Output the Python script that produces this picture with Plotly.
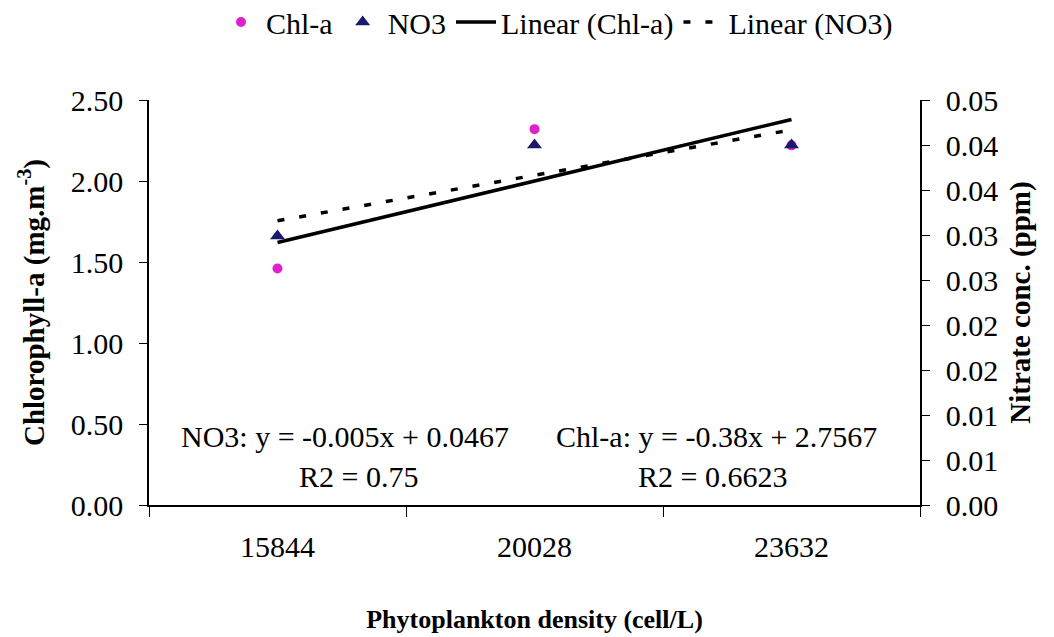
import numpy as np
import plotly.graph_objects as go

# ---------------- data ----------------
categories = ["15844", "20028", "23632"]
chla = [1.46, 2.32, 2.22]          # Chlorophyll-a (mg.m-3), left axis
no3 = [0.0299, 0.0400, 0.0400]     # Nitrate (ppm), right axis

y_tickvals = [0.0, 0.5, 1.0, 1.5, 2.0, 2.5]
y_ticktext = ["0.00", "0.50", "1.00", "1.50", "2.00", "2.50"]
y2_tickvals = [0.0, 0.005, 0.010, 0.015, 0.020, 0.025, 0.030, 0.035, 0.040, 0.045]
y2_ticktext = ["0.00", "0.01", "0.01", "0.02", "0.02", "0.03", "0.03", "0.04", "0.04", "0.05"]

eq_no3 = "NO3: y = -0.005x + 0.0467"
r2_no3 = "R2 = 0.75"
eq_chla = "Chl-a: y = -0.38x + 2.7567"
r2_chla = "R2 = 0.6623"

# linear trendlines (least squares over category index)
idx = np.arange(1, len(categories) + 1)
c_fit = np.polyval(np.polyfit(idx, chla, 1), idx)
n_fit = np.polyval(np.polyfit(idx, no3, 1), idx)

FONT = "Liberation Serif, Times New Roman, serif"

fig = go.Figure()
fig.add_trace(go.Scatter(x=categories, y=chla, mode="markers", name="Chl-a",
                         marker=dict(symbol="circle", size=10, color="#DD22CC"),
                         yaxis="y"))
fig.add_trace(go.Scatter(x=categories, y=no3, mode="markers", name="NO3",
                         marker=dict(symbol="triangle-up", size=13, color="#1A1A6B"),
                         yaxis="y2"))
fig.add_trace(go.Scatter(x=categories, y=c_fit, mode="lines", name="Linear (Chl-a)",
                         line=dict(color="black", width=3.5), yaxis="y"))
fig.add_trace(go.Scatter(x=categories, y=n_fit, mode="lines", name="Linear (NO3)",
                         line=dict(color="black", width=3.5, dash="7px,15px"), yaxis="y2"))

# positions expressed as fractions of the plot area (771 x 405 px)
ann_font = dict(family=FONT, size=30, color="black")
def px(x):
    return (x - 149) / 771.0
def py(y):
    return (505 - y) / 405.0

annotations = [
    dict(text=eq_no3, x=px(345), y=py(436), xref="paper", yref="paper", xanchor="center",
         yanchor="middle", showarrow=False, font=ann_font),
    dict(text=r2_no3, x=px(358), y=py(476), xref="paper", yref="paper", xanchor="center",
         yanchor="middle", showarrow=False, font=ann_font),
    dict(text=eq_chla, x=px(716), y=py(436), xref="paper", yref="paper", xanchor="center",
         yanchor="middle", showarrow=False, font=ann_font),
    dict(text=r2_chla, x=px(712), y=py(476), xref="paper", yref="paper", xanchor="center",
         yanchor="middle", showarrow=False, font=ann_font),
]

fig.update_layout(
    template="none",
    width=1054, height=637,
    margin=dict(l=141, r=142, t=92, b=140, autoexpand=False),
    paper_bgcolor="white", plot_bgcolor="white",
    font=dict(family=FONT, size=30, color="black"),
    showlegend=True,
    legend=dict(orientation="h", x=px(557), y=py(22), xanchor="center", yanchor="middle",
                font=dict(family=FONT, size=30, color="black"),
                itemwidth=40, traceorder="normal", bgcolor="rgba(0,0,0,0)"),
    annotations=annotations,
    xaxis=dict(type="category", range=[-0.5, 2.5], showline=True, linecolor="black",
               linewidth=1.5, ticks="outside", ticklen=10, tickwidth=1.2, tickcolor="black",
               tickson="boundaries", showgrid=False, zeroline=False, automargin=False,
               ticklabelstandoff=14,
               tickfont=dict(family=FONT, size=30),
               title=dict(text="<b>Phytoplankton density (cell/L)</b>",
                          font=dict(family=FONT, size=26), standoff=48)),
    yaxis=dict(range=[0, 2.5], tickvals=y_tickvals, ticktext=y_ticktext,
               showline=True, linecolor="black", linewidth=1.5, ticks="outside",
               ticklen=8, tickwidth=1.2, tickcolor="black", showgrid=False, zeroline=False,
               automargin=False, ticklabelstandoff=10,
               tickfont=dict(family=FONT, size=30),
               title=dict(text="<b>Chlorophyll-a (mg.m<sup>-3</sup>)</b>",
                          font=dict(family=FONT, size=29), standoff=18)),
    yaxis2=dict(range=[0, 0.045], tickvals=y2_tickvals, ticktext=y2_ticktext,
                overlaying="y", side="right", showline=True, linecolor="black",
                linewidth=1.5, ticks="outside", ticklen=8, tickwidth=1.2, tickcolor="black",
                showgrid=False, zeroline=False, automargin=False, ticklabelstandoff=10,
                tickfont=dict(family=FONT, size=30),
                title=dict(text="<b>Nitrate conc. (ppm)</b>",
                           font=dict(family=FONT, size=29), standoff=12)),
)

fig.write_html("out.html")
